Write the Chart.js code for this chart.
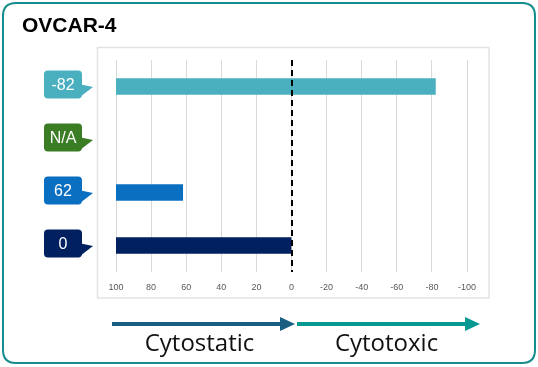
<!DOCTYPE html>
<html><head><meta charset="utf-8">
<script src="https://cdn.jsdelivr.net/npm/chart.js@4/dist/chart.umd.min.js"></script>
<style>html,body{margin:0;padding:0;background:#fff;overflow:hidden}canvas{display:block}</style>
</head><body>
<canvas id="c" width="538" height="367"></canvas>
<script>
// ---- data ----
const title = 'OVCAR-4';
const categories = ['-82', 'N/A', '62', '0'];
const values = [-82, null, 62, 0];
const barStart = 100;
const colors = ['#4aafbf', '#3a7d24', '#0b6fc1', '#002060'];
const xMin = -100, xMax = 100, xStep = 20;
const arrowLabels = ['Cytostatic', 'Cytotoxic'];
const arrowColors = ['#1a5f82', '#079892'];

const barData = values.map(v => v === null ? null : [barStart, v]);

function roundRect(ctx, x, y, w, h, r) {
  ctx.beginPath();
  ctx.moveTo(x + r, y);
  ctx.lineTo(x + w - r, y);
  ctx.quadraticCurveTo(x + w, y, x + w, y + r);
  ctx.lineTo(x + w, y + h - r);
  ctx.quadraticCurveTo(x + w, y + h, x + w - r, y + h);
  ctx.lineTo(x + r, y + h);
  ctx.quadraticCurveTo(x, y + h, x, y + h - r);
  ctx.lineTo(x, y + r);
  ctx.quadraticCurveTo(x, y, x + r, y);
  ctx.closePath();
}

const decor = {
  id: 'decor',
  beforeDraw(chart) {
    const ctx = chart.ctx;
    ctx.save();
    ctx.fillStyle = '#fff';
    ctx.fillRect(0, 0, chart.width, chart.height);
    // outer border
    ctx.strokeStyle = '#178c8c';
    ctx.lineWidth = 2;
    roundRect(ctx, 3, 3, 532, 360, 13);
    ctx.stroke();
    // plot box
    ctx.strokeStyle = '#e3e3e3';
    ctx.lineWidth = 1.5;
    ctx.strokeRect(97.5, 47.5, 391.5, 250.5);
    // title
    ctx.fillStyle = '#000';
    ctx.font = 'bold 21px "Liberation Sans", Arial, sans-serif';
    ctx.textBaseline = 'alphabetic';
    ctx.textAlign = 'left';
    ctx.fillText(title, 22, 32);
    ctx.restore();
  },
  afterDatasetsDraw(chart) {
    const ctx = chart.ctx;
    const xs = chart.scales.x, ys = chart.scales.y;
    const area = chart.chartArea;
    ctx.save();
    // dashed zero line
    const x0 = Math.round(xs.getPixelForValue(0));
    ctx.strokeStyle = '#000';
    ctx.lineWidth = 2;
    ctx.setLineDash([6, 4]);
    ctx.beginPath();
    ctx.moveTo(x0, area.top);
    ctx.lineTo(x0, area.bottom);
    ctx.stroke();
    ctx.setLineDash([]);
    // callouts
    categories.forEach((lab, i) => {
      const cy = ys.getPixelForValue(i);
      const bx = 44, bw = 38, bh = 28;
      const by = cy - 2 - bh / 2;
      ctx.fillStyle = colors[i];
      roundRect(ctx, bx, by, bw, bh, 4);
      ctx.fill();
      ctx.beginPath();
      ctx.moveTo(bx + bw - 1, cy - 2);
      ctx.lineTo(93, cy + 0.5);
      ctx.lineTo(bx + bw - 4, by + bh);
      ctx.closePath();
      ctx.fill();
      ctx.fillStyle = '#fff';
      ctx.font = '16px "Liberation Sans", Arial, sans-serif';
      ctx.textAlign = 'center';
      ctx.textBaseline = 'middle';
      ctx.fillText(lab, bx + bw / 2, by + bh / 2 + 1);
    });
    // arrows
    const ay = 324;
    const segs = [[112, 295], [297, 480]];
    segs.forEach((s, i) => {
      ctx.fillStyle = arrowColors[i];
      ctx.fillRect(s[0], ay - 2, s[1] - s[0] - 12, 4);
      ctx.beginPath();
      ctx.moveTo(s[1] - 15, ay - 7);
      ctx.lineTo(s[1], ay);
      ctx.lineTo(s[1] - 15, ay + 7);
      ctx.closePath();
      ctx.fill();
      ctx.fillStyle = '#111';
      ctx.font = '24px "Open Sans", Lato, sans-serif';
      ctx.textAlign = 'center';
      ctx.textBaseline = 'alphabetic';
      ctx.fillText(arrowLabels[i], (s[0] + s[1]) / 2 + (i === 0 ? -4 : -2), 351);
    });
    ctx.restore();
  }
};

new Chart(document.getElementById('c'), {
  type: 'bar',
  data: {
    labels: categories,
    datasets: [{
      data: barData,
      backgroundColor: colors,
      borderWidth: 0,
      barThickness: 16
    }]
  },
  options: {
    indexAxis: 'y',
    responsive: false,
    animation: false,
    events: [],
    layout: { padding: { left: 116, right: 71, top: 60, bottom: 65 } },
    plugins: { legend: { display: false }, tooltip: { enabled: false }, title: { display: false } },
    scales: {
      x: {
        min: xMin, max: xMax, reverse: true,
        afterFit(s) { s.height = 30; },
        border: { display: false },
        grid: { color: '#d9d9d9', lineWidth: 1, drawTicks: false },
        ticks: {
          stepSize: xStep, padding: 10, color: '#595959',
          font: { size: 9, family: '"Liberation Sans", sans-serif' },
          callback: v => String(v)
        }
      },
      y: { display: false }
    }
  },
  plugins: [decor]
});
</script>
</body></html>
